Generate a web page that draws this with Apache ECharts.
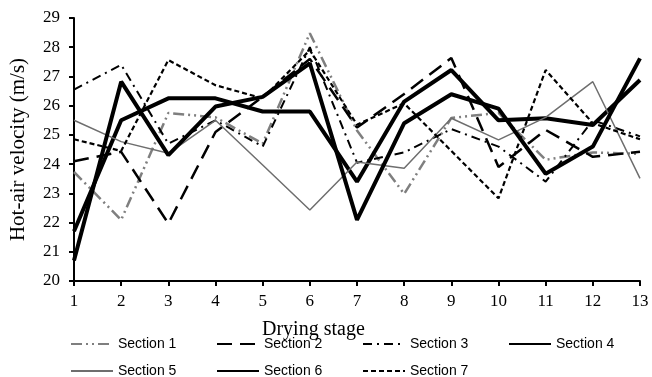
<!DOCTYPE html>
<html>
<head>
<meta charset="utf-8">
<script src="https://cdn.jsdelivr.net/npm/echarts@6/dist/echarts.min.js"></script>
<style>
html,body{margin:0;padding:0;background:#fff;}
#chart{width:652px;height:377px;}
</style>
</head>
<body>
<div id="chart"></div>
<script>
var stages = [1,2,3,4,5,6,7,8,9,10,11,12,13];
var yTicks = [20,21,22,23,24,25,26,27,28,29];
var sectionNames = ['Section 1','Section 2','Section 3','Section 4','Section 5','Section 6','Section 7'];
var section1 = [23.73, 22.09, 25.75, 25.6, 24.7, 28.48, 25.15, 22.98, 25.58, 25.75, 24.15, 24.4, 24.35];
var section2 = [24.1, 24.42, 21.97, 25.1, 26.3, 27.6, 25.25, 26.4, 27.63, 23.9, 25.17, 24.25, 24.42];
var section3 = [26.55, 27.4, 24.7, 25.5, 24.6, 28.0, 24.05, 24.4, 25.2, 24.6, 23.4, 25.5, 24.95];
var section4 = [21.7, 25.5, 26.25, 26.25, 25.8, 25.8, 23.4, 26.14, 27.22, 25.5, 25.57, 25.34, 26.88];
var section5 = [25.5, 24.77, 24.37, 25.5, 23.97, 22.43, 24.07, 23.86, 25.57, 24.83, 25.6, 26.82, 23.51];
var section6 = [20.7, 26.82, 24.31, 25.97, 26.3, 27.45, 22.09, 25.4, 26.39, 25.9, 23.67, 24.6, 27.62];
var section7 = [24.85, 24.45, 27.56, 26.7, 26.25, 27.9, 25.35, 26.08, 24.45, 22.83, 27.22, 25.4, 24.85];

var allData = [section1, section2, section3, section4, section5, section6, section7];
var styles = [
  {color:'#7f7f7f', width:2.5, type:[11,4,2,4,2,4]},
  {color:'#000', width:2.5, type:[15,8]},
  {color:'#000', width:2, type:[9,5,2,5]},
  {color:'#000', width:4, type:'solid'},
  {color:'#6e6e6e', width:1.5, type:'solid'},
  {color:'#000', width:4, type:'solid'},
  {color:'#000', width:2.2, type:[5,3]}
];
var series = allData.map(function(d, i){
  return {
    name: sectionNames[i],
    type: 'line',
    data: stages.map(function(s, j){ return [s, d[j]]; }),
    symbol: 'none',
    lineStyle: {color: styles[i].color, width: styles[i].width, type: styles[i].type, cap:'butt'},
    itemStyle: {color: styles[i].color},
    z: 2 + i
  };
});
var legendPos = [
  [65,332],[211,332],[357,332],[503,332],
  [65,359],[211,359],[357,359]
];
var legends = sectionNames.map(function(n, i){
  return {
    data:[n],
    left: legendPos[i][0], top: legendPos[i][1],
    itemWidth: 42, itemHeight: 8, itemGap: 4,
    itemStyle:{opacity:0},
    textStyle:{fontFamily:'Liberation Sans Narrow, Arial Narrow, sans-serif', fontSize:14, color:'#000'}
  };
});
var chart = echarts.init(document.getElementById('chart'));
chart.setOption({
  animation:false,
  backgroundColor:'#fff',
  grid:{left:73, right:12, top:18, bottom:96, containLabel:false},
  legend: legends,
  xAxis:{
    type:'value', min:stages[0], max:stages[stages.length-1], interval:1,
    axisLine:{lineStyle:{color:'#000', width:2}},
    axisTick:{show:true, length:5, lineStyle:{color:'#000', width:2}},
    axisLabel:{color:'#000', fontFamily:'Liberation Serif, serif', fontSize:17, margin:12},
    splitLine:{show:false}
  },
  yAxis:{
    type:'value', min:yTicks[0], max:yTicks[yTicks.length-1], interval:1,
    name:'Hot-air velocity (m/s)', nameLocation:'middle', nameGap:45,
    nameTextStyle:{color:'#000', fontFamily:'Liberation Serif, serif', fontSize:21},
    axisLine:{show:true, lineStyle:{color:'#000', width:2}},
    axisTick:{show:true, length:5, lineStyle:{color:'#000', width:2}},
    axisLabel:{color:'#000', fontFamily:'Liberation Serif, serif', fontSize:17, margin:14},
    splitLine:{show:false}
  },
  graphic:[{
    type:'text', left:262, top:320,
    style:{text:'Drying stage', fill:'#000', font:'20px "Liberation Serif", serif'}
  }],
  series: series
});
</script>
</body>
</html>
